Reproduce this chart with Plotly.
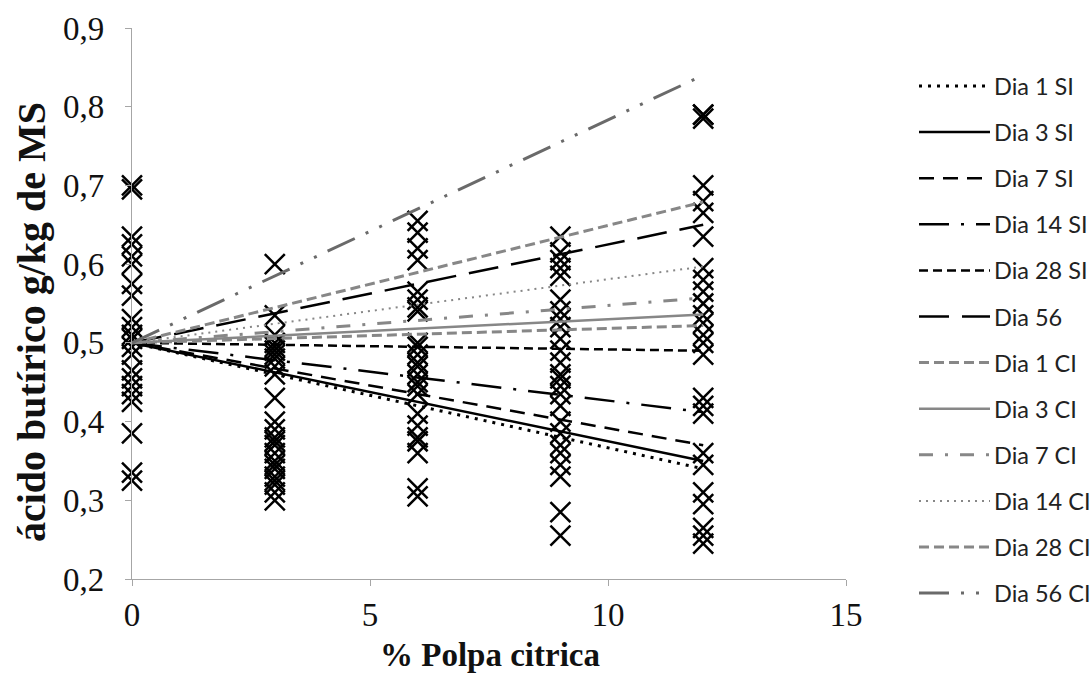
import plotly.graph_objects as go

# Observed butyric acid (g/kg DM) at each citrus pulp inclusion level
pulp_levels = [0, 3, 6, 9, 12]
obs_0 = [0.70, 0.695, 0.635, 0.625, 0.61, 0.60, 0.575, 0.56, 0.53, 0.52, 0.51, 0.505,
         0.495, 0.485, 0.465, 0.455, 0.445, 0.435, 0.425, 0.385, 0.335, 0.325]
obs_3 = [0.60, 0.535, 0.51, 0.50, 0.495, 0.49, 0.485, 0.48, 0.47, 0.46, 0.43,
         0.40, 0.39, 0.38, 0.375, 0.37, 0.36, 0.35, 0.345, 0.34, 0.33, 0.325,
         0.32, 0.31, 0.30]
obs_6 = [0.655, 0.64, 0.62, 0.605, 0.565, 0.555, 0.545, 0.54, 0.50, 0.495, 0.485,
         0.475, 0.47, 0.46, 0.45, 0.445, 0.435, 0.41, 0.395, 0.38, 0.375, 0.36,
         0.315, 0.305]
obs_9 = [0.635, 0.615, 0.605, 0.595, 0.585, 0.555, 0.54, 0.53, 0.52, 0.505, 0.49,
         0.475, 0.46, 0.455, 0.445, 0.435, 0.42, 0.40, 0.385, 0.37, 0.36, 0.345,
         0.33, 0.285, 0.255]
obs_12 = [0.79, 0.79, 0.785, 0.70, 0.68, 0.665, 0.635, 0.595, 0.58, 0.565, 0.55,
          0.535, 0.525, 0.51, 0.50, 0.485, 0.43, 0.42, 0.41, 0.36, 0.345, 0.31,
          0.295, 0.265, 0.255, 0.245]
observations = [obs_0, obs_3, obs_6, obs_9, obs_12]

# Linear trends per storage day (SI / CI), fitted between 0 % and 12 % pulp
trend_x = [0, 12]
series_names = ["Dia 1 SI", "Dia 3 SI", "Dia 7 SI", "Dia 14 SI", "Dia 28 SI", "Dia 56",
                "Dia 1 CI", "Dia 3 CI", "Dia 7 CI", "Dia 14 CI", "Dia 28 CI", "Dia 56 CI"]
trend_at_0 = [0.5, 0.5, 0.5, 0.5, 0.5, 0.5, 0.5, 0.5, 0.5, 0.5, 0.5, 0.5]
trend_at_12 = [0.340, 0.350, 0.370, 0.412, 0.490, 0.650,
               0.522, 0.536, 0.557, 0.597, 0.679, 0.840]

x_title = "% Polpa citrica"
y_title = "ácido butírico g/kg de MS"

BLACK = "#000000"
GREY = "#878787"
DARK_GREY = "#6a6a6a"
SERIF = "Liberation Serif, Times New Roman, serif"
line_colors = [BLACK] * 6 + [GREY] * 5 + [DARK_GREY]
line_dashes = ["3px,6px", "solid", "15px,9px", "30px,12px,3px,12px", "9px,5px", "30px,13px",
               "10px,5px", "solid", "14px,12px,3px,12px", "2px,5px", "10px,5px",
               "30px,12px,3px,12px,3px,12px"]
line_widths = [3, 2.5, 2.5, 2.5, 2.5, 2.5, 3, 2.5, 3, 2, 3, 3]

fig = go.Figure()

xs, ys = [], []
for lvl, vals in zip(pulp_levels, observations):
    xs += [lvl] * len(vals)
    ys += vals
fig.add_trace(go.Scatter(
    x=xs, y=ys, mode="markers", showlegend=False, cliponaxis=False,
    marker=dict(symbol="x-thin-open", size=20, color=BLACK,
                line=dict(color=BLACK, width=2.5)),
))

for name, y0, y1, col, dash, w in zip(series_names, trend_at_0, trend_at_12,
                                      line_colors, line_dashes, line_widths):
    fig.add_trace(go.Scatter(
        x=trend_x, y=[y0, y1], mode="lines", name=name, showlegend=False,
        cliponaxis=False, line=dict(color=col, dash=dash, width=w),
    ))

# Plot-area geometry in pixels, used to place the legend column and axis titles
plot_left, plot_right, plot_top, plot_bottom = 132, 846, 28, 579
pw, ph = plot_right - plot_left, plot_bottom - plot_top
def px_x(p):
    return (p - plot_left) / pw
def px_y(p):
    return (plot_bottom - p) / ph

shapes, annotations = [], []
for i, (name, col, dash, w) in enumerate(zip(series_names, line_colors, line_dashes, line_widths)):
    yy = 86 + i * 46.1
    shapes.append(dict(type="line", xref="paper", yref="paper",
                       x0=px_x(919), x1=px_x(990), y0=px_y(yy), y1=px_y(yy),
                       line=dict(color=col, dash=dash, width=w)))
    annotations.append(dict(xref="paper", yref="paper", x=px_x(992), y=px_y(yy),
                            text=name, showarrow=False, xanchor="left", yanchor="middle",
                            font=dict(family="Lato, Open Sans, sans-serif", size=23.5,
                                      color="#222222")))

annotations.append(dict(xref="paper", yref="paper", x=px_x(490), y=px_y(655),
                        text="<b>" + x_title + "</b>", showarrow=False,
                        xanchor="center", yanchor="middle",
                        font=dict(family=SERIF, size=33, color="#111111")))
annotations.append(dict(xref="paper", yref="paper", x=px_x(31), y=px_y(322),
                        text="<b>" + y_title + "</b>", showarrow=False, textangle=-90,
                        xanchor="center", yanchor="middle",
                        font=dict(family=SERIF, size=40, color="#111111")))

axis_common = dict(showline=True, linecolor="#a6a6a6", linewidth=1.2, showgrid=False,
                   zeroline=False, ticks="outside", tickcolor="#a6a6a6", ticklen=6,
                   automargin=False,
                   tickfont=dict(family=SERIF, size=33, color="#111111"))

fig.update_layout(
    width=1092, height=675,
    margin=dict(l=plot_left, r=1092 - plot_right, t=plot_top, b=675 - plot_bottom),
    paper_bgcolor="white", plot_bgcolor="white",
    separators=", ",
    showlegend=False,
    xaxis=dict(range=[0, 15], tickvals=[0, 5, 10, 15], **axis_common),
    yaxis=dict(range=[0.2, 0.9], dtick=0.1, tickformat=".1f", **axis_common),
    shapes=shapes, annotations=annotations,
)
fig.update_xaxes(ticklabelstandoff=0)
fig.update_yaxes(ticklabelstandoff=14)

fig.write_html("out.html")
